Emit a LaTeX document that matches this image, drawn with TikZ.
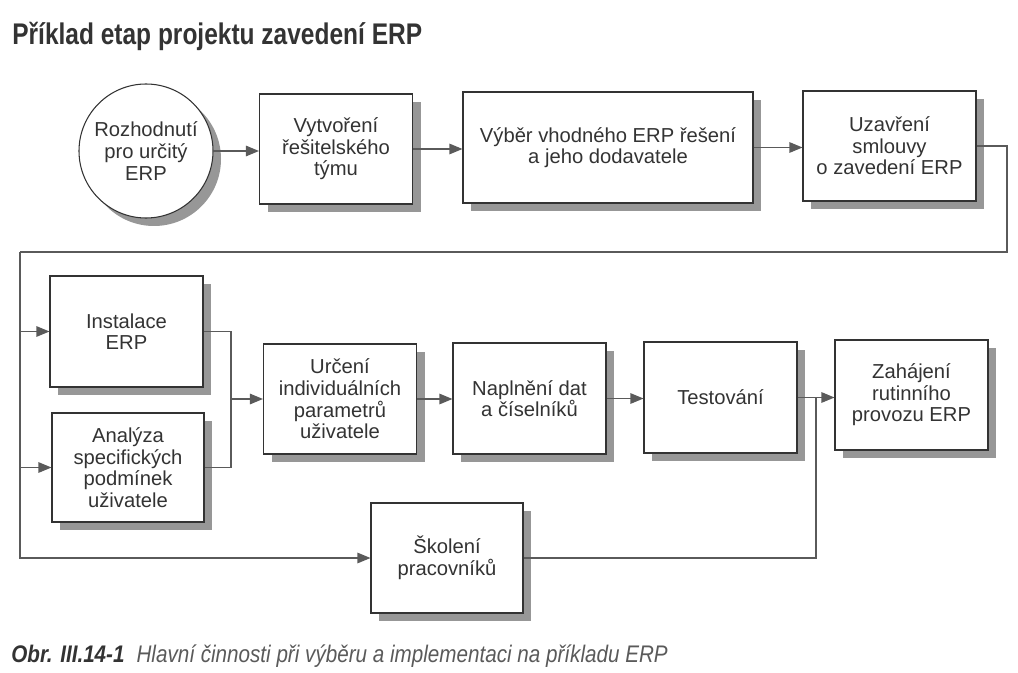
\documentclass[tikz,border=0pt]{standalone}
\usepackage{fontspec}
\setmainfont{Liberation Sans}
\newfontfamily\nadpisfont[FakeStretch=0.82]{Liberation Sans}
\newfontfamily\popisfont[FakeStretch=0.86]{Liberation Sans}
\usetikzlibrary{arrows.meta,shadows}
\definecolor{textgray}{HTML}{333333}
\definecolor{linegray}{HTML}{5A5A5A}
\definecolor{stingray}{HTML}{979797}

\begin{document}
\begin{tikzpicture}[
		krok/.style={draw=textgray, line width=0.6pt, fill=white, align=center, text=textgray,
			minimum width=3.06cm, minimum height=2.2cm, inner sep=2pt,
			font=\fontsize{11.5}{12.3}\selectfont,
			drop shadow={shadow xshift=0.16cm, shadow yshift=-0.16cm, fill=stingray, opacity=1}},
		sipka/.style={draw=linegray, line width=0.65pt, -{Triangle[length=0.26cm, width=0.21cm]}},
		vedeni/.style={draw=linegray, line width=0.65pt}]
		\useasboundingbox (0,0) rectangle (20.36,-13.46);
		
		% Title
		\node[anchor=base west, inner sep=0pt, text=textgray, font=\nadpisfont\bfseries\fontsize{17}{19}\selectfont] (nadpis) at (0.24,-0.9) {Příklad etap projektu zavedení ERP};
		
		% Top row
		\node[krok, circle, minimum size=2.68cm] (rozhodnuti) at (2.92,-3.02) {Rozhodnutí\\pro určitý\\ERP};
		\node[krok] (tym) at (6.72,-2.98) {Vytvoření\\řešitelského\\týmu};
		\node[krok, minimum width=5.8cm, minimum height=2.22cm] (vyber) at (12.16,-2.95) {Výběr vhodného ERP řešení\\a jeho dodavatele};
		\node[krok, minimum width=3.46cm] (smlouva) at (17.79,-2.92) {Uzavření\\smlouvy\\o zavedení ERP};
		
		% Middle and bottom
		\node[krok, minimum height=2.22cm] (instalace) at (2.53,-6.63) {Instalace\\ERP};
		\node[krok, minimum width=3.04cm, minimum height=2.18cm] (analyza) at (2.56,-9.35) {Analýza\\specifických\\podmínek\\uživatele};
		\node[krok] (urceni) at (6.8,-7.98) {Určení\\individuálních\\parametrů\\uživatele};
		\node[krok, minimum height=2.22cm] (naplneni) at (10.59,-7.97) {Naplnění dat\\a číselníků};
		\node[krok, minimum height=2.22cm] (testovani) at (14.41,-7.95) {Testování};
		\node[krok] (zahajeni) at (18.23,-7.9) {Zahájení\\rutinního\\provozu ERP};
		\node[krok, minimum width=3.04cm] (skoleni) at (8.94,-11.16) {Školení\\pracovníků};
		
		% Coordinates of the bends
		\coordinate (vpravo) at (20.14,-5.04);
		\coordinate (vlevo) at (0.4,-5.04);
		\coordinate (spoj) at (4.62,-7.98);
		\coordinate (soutok) at (16.32,-7.95);
		
		% Arrows in a row
		\foreach \a/\b in {rozhodnuti/tym, tym/vyber, vyber/smlouva, urceni/naplneni, naplneni/testovani, testovani/zahajeni}
		\draw[sipka] (\a.east) -- (\a.east -| \b.west);
		
		% Return line
		\draw[vedeni] (smlouva.east) -| (vpravo) -- (vlevo);
		\draw[sipka] (vlevo) |- (skoleni.west);
		\foreach \n in {instalace,analyza}
		\draw[sipka] (vlevo |- \n.west) -- (\n.west);
		
		% Joins
		\draw[vedeni] (instalace.east) -| (spoj) |- (analyza.east);
		\draw[sipka] (spoj) -- (urceni.west);
		\draw[vedeni] (skoleni.east) -| (soutok);
		
		% Caption
		\node[anchor=base west, inner sep=0pt, text=textgray, font=\popisfont\itshape\fontsize{13.66}{16}\selectfont] (popis) at (0.22,-13.24) {\textbf{Obr. III.14-1}\hspace{0.24cm}\textcolor{linegray}{Hlavní činnosti při výběru a implementaci na příkladu ERP}};
	\end{tikzpicture}
\end{document}
